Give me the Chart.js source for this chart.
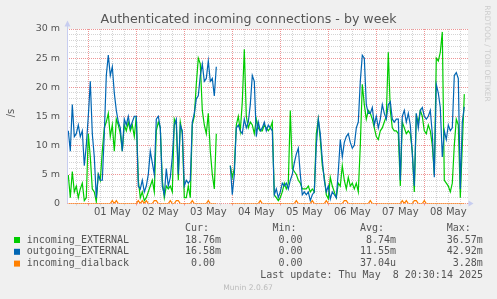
<!DOCTYPE html>
<html>
<head>
<meta charset="utf-8">
<script src="https://cdn.jsdelivr.net/npm/chart.js@4.4.1/dist/chart.umd.min.js"></script>
<style>
  html, body { margin: 0; padding: 0; background: #f0f0f0; }
  #wrap { width: 497px; height: 299px; }
</style>
</head>
<body>
<div id="wrap"><canvas id="chart" width="497" height="299"></canvas></div>
<script>
// hours relative to 01 May 00:00, one sample per hour, first sample at startHour
const startHour = -10;
const dayLabels = ['01 May', '02 May', '03 May', '04 May', '05 May', '06 May', '07 May', '08 May'];
const yLabelValues = [0, 5, 10, 15, 20, 25, 30];

// values in milli-connections per second (m)
const incomingExternal = [
  4.9, 1, 5.5, 2, 3, 1, 2.5, 3.5, 0.5, 1,
  12, 8, 2.5, 2, 0.3, 5, 4, 9, 13, 14, 15.5, 11.5, 13.5, 9, 14.5, 13.5, 12, 9, 13.5, 12.5, 14, 12.5, 13.5, 11.5,
  15, 4, 1, 2, 0.5, 1, 2, 3, 4, 2, 12.5, 14, 13, 4, 1, 3, 2.5, 3, 2, 14.5, 13.5, 4, 14, 12,
  1, 1, 3, 1, 13.5, 15, 20.5, 25, 24, 16, 13.5, 12, 15.5, 9, 5, 2.5, 12, null, null, null, null, null, null, 6.5,
  4.5, 6, 13.5, 15, 12.5, 17.5, 26.5, 15, 13, 14, 13.5, 12, 14.5, 13, 12.5, 12.5, 13.5, 13, 12.5, 13, 14, 1.5, 1, 0.5,
  1, 2, 3.5, 2.5, 3.5, 16, 6, 5.5, 5, 4, 3.5, 2.5, 2.5, 2.5, 3, 2, 2.5, 2, 12, 14.5, 11, 6.5, 4.5, 1.5,
  0.8, 4.5, 3, 2, 1, 3.5, 3, 6.5, 4, 2.5, 4.5, 3, 3.5, 2.5, 3.5, 2, 10, 20.5, 17, 14.5, 16, 15.5, 14.5, 13,
  11.5, 11, 12.5, 13, 14, 15, 26, 16, 13, 12.5, 12.5, 12, 3, 14, 13, 12, 12.5, 12, 9, 2, 15, 14, 16, 15,
  12.5, 12, 13.5, 12.5, 10, 5, 25, 24.5, 26, 29.5, 4, 3.5, 3, 2, 3.5, 10, 14.5, 13.5, 1, 10, 18.8
];
const outgoingExternal = [
  12.5, 9, 17, 11.5, 12, 13.5, 11.5, 12.5, 6.5, 10,
  15, 21, 12, 8, 1, 5, 4, 4, 12, 22, 25.5, 22, 23.5, 19, 16, 14, 13, 9, 14.5, 13.5, 15, 13, 14, 15,
  15, 3, 2.5, 4, 2, 3, 5, 9, 7, 5, 14.5, 15, 13, 3, 1.5, 6, 3, 4.5, 8, 13.5, 14.5, 5, 13.5, 12.5,
  3, 4, 3.5, 4, 14, 15.5, 18, 18.5, 22, 24, 21, 21.5, 24.5, 21, 21.5, 18.5, 23.5, null, null, null, null, null, null, 6.5,
  1.5, 5, 13, 13.5, 12.5, 12, 14.5, 13, 14, 17, 22, 21, 11.5, 14, 12.5, 13, 14, 12.5, 13.5, 13, 12.5, 1.5, 2.5, 1,
  2, 3.5, 3, 3.5, 2.5, 4, 5, 7, 8.5, 9.5, 5, 1.5, 2, 1.5, 2, 0.5, 1.5, 2, 10, 14.5, 12, 7.5, 4, 2,
  3, 0.8, 2, 1.5, 1, 5.5, 11, 8, 10.5, 11.5, 12, 10.5, 9.5, 10, 13, 14, 21, 25.5, 25, 17, 15.5, 15.5, 16.5, 13.5,
  15, 13, 14.5, 17, 15.5, 14.5, 17, 17.5, 14.5, 14, 14.5, 14.5, 4, 15, 16, 14, 15.5, 13.5, 8.5, 3, 15.5, 13, 16, 16.5,
  15, 14.5, 15, 16, 12, 4.5, 20.5, 19, 16.5, 8, 12.5, 11, 13.5, 12.5, 13, 22, 22.5, 21.5, 2.5, 14, 16.6
];
const incomingDialback = [
  0, 0, 0, 0, 0, 0, 0, 0, 0, 0,
  0, 0, 0, 0, 0, 0, 0, 0, 0, 0, 0, 0, 0.5, 0, 0.5, 0, 0, 0, 0, 0, 0, 0, 0, 0,
  0, 0.5, 0, 0.5, 0, 0.5, 0, 0, 0, 0.5, 0.5, 0, 0, 0, 0, 0, 0, 0.5, 0, 0, 0.5, 0.5, 0, 0,
  0, 0, 0, 0, 0.5, 0, 0, 0, 0, 0, 0, 0, 0.5, 0, 0, 0, 0, null, null, null, null, null, null, 0,
  0, 0, 0, 0, 0, 0, 0, 0, 0, 0, 0, 0, 0, 0, 0.5, 0, 0, 0, 0, 0, 0, 0, 0, 0,
  0, 0, 0, 0, 0, 0, 0, 0, 0.5, 0, 0, 0, 0, 0, 0, 0, 0.5, 0, 0, 0, 0, 0, 0, 0.5,
  0, 0, 0, 0, 0, 0, 0, 0, 0.5, 0.5, 0, 0, 0, 0, 0, 0, 0, 0, 0, 0, 0, 0.5, 0, 0,
  0, 0, 0, 0, 0, 0, 0, 0, 0, 0, 0, 0, 0, 0.5, 0, 0.5, 0, 0, 0, 0.5, 0.5, 0, 0, 0,
  0.5, 0, 0, 0, 0, 0, 0, 0, 0, 0, 0, 0, 0, 0, 0, 0, 0, 0, 0, 0, 0
];

const seriesNames = ['incoming_EXTERNAL', 'outgoing_EXTERNAL', 'incoming_dialback'];
const seriesColors = ['#00cc00', '#0066b3', '#ff8000'];
const curValues = ['18.76m', '16.58m', ' 0.00 '];
const minValues = [' 0.00 ', ' 0.00 ', ' 0.00 '];
const avgValues = [' 8.74m', '11.55m', '37.04u'];
const maxValues = ['36.57m', '42.92m', ' 3.28m'];
const lastUpdate = 'Last update: Thu May  8 20:30:14 2025';

const toPoints = arr => arr.map((v, i) => ({ x: startHour + i, y: v }));

const xTicks = [];
for (let h = -6; h <= 186; h += 6) xTicks.push(h);
const yTicks = [];
for (let v = 0; v <= 30; v++) yTicks.push(v);

const minorGrid = '#d4d4d4';
const majorGrid = '#ee9595';

const munin = {
  id: 'munin',
  beforeDraw(chart) {
    const { ctx, chartArea: a } = chart;
    ctx.save();
    ctx.fillStyle = '#f0f0f0';
    ctx.fillRect(0, 0, chart.width, chart.height);
    ctx.fillStyle = '#ffffff';
    ctx.fillRect(a.left, a.top, a.right - a.left, a.bottom - a.top);
    ctx.restore();
  },
  afterDraw(chart) {
    const { ctx, chartArea: a } = chart;
    ctx.save();
    // axes with arrows
    ctx.strokeStyle = '#c7cdf0';
    ctx.fillStyle = '#c7cdf0';
    ctx.lineWidth = 1;
    ctx.beginPath();
    ctx.moveTo(a.left + 0.5, a.bottom);
    ctx.lineTo(a.left + 0.5, 24);
    ctx.stroke();
    ctx.beginPath();
    ctx.moveTo(a.left + 0.5, 20.5);
    ctx.lineTo(a.left - 2.5, 26.5);
    ctx.lineTo(a.left + 3.5, 26.5);
    ctx.closePath();
    ctx.fill();
    ctx.beginPath();
    ctx.moveTo(a.right, a.bottom);
    ctx.lineTo(a.right + 2, a.bottom);
    ctx.stroke();
    ctx.beginPath();
    ctx.moveTo(a.right + 5.5, a.bottom);
    ctx.lineTo(a.right + 0.5, a.bottom - 3);
    ctx.lineTo(a.right + 0.5, a.bottom + 3);
    ctx.closePath();
    ctx.fill();

    // title
    ctx.fillStyle = '#555555';
    ctx.font = '12.6px "DejaVu Sans"';
    ctx.textAlign = 'center';
    ctx.textBaseline = 'alphabetic';
    ctx.fillText('Authenticated incoming connections - by week', 248.5, 23);

    // y unit
    ctx.save();
    ctx.translate(11, 113);
    ctx.rotate(-Math.PI / 2);
    ctx.font = '10px "DejaVu Sans"';
    ctx.textBaseline = 'middle';
    ctx.fillText('/s', 0, 0);
    ctx.restore();

    // watermark
    ctx.save();
    ctx.translate(487, 53.5);
    ctx.rotate(Math.PI / 2);
    ctx.fillStyle = '#cccccc';
    ctx.font = '7.5px "DejaVu Sans"';
    ctx.textBaseline = 'middle';
    ctx.textAlign = 'center';
    ctx.fillText('RRDTOOL / TOBI OETIKER', 0, 0);
    ctx.restore();

    // legend
    ctx.font = '10px "DejaVu Sans Mono"';
    ctx.textAlign = 'left';
    ctx.textBaseline = 'middle';
    ctx.fillStyle = '#555555';
    ctx.fillText('Cur:', 185, 228.3);
    ctx.fillText('Min:', 272.5, 228.3);
    ctx.fillText('Avg:', 360, 228.3);
    ctx.fillText('Max:', 446.7, 228.3);
    const rowY = [240, 251.8, 263.6];
    seriesNames.forEach((name, i) => {
      const y = rowY[i];
      ctx.fillStyle = seriesColors[i];
      ctx.fillRect(14, y - 3, 6, 6);
      ctx.fillStyle = '#555555';
      ctx.fillText(name, 26.7, y);
      ctx.fillText(curValues[i], 185, y);
      ctx.fillText(minValues[i], 272.5, y);
      ctx.fillText(avgValues[i], 360, y);
      ctx.fillText(maxValues[i], 446.7, y);
    });
    ctx.textAlign = 'right';
    ctx.fillText(lastUpdate, 483, 275.5);

    ctx.textAlign = 'center';
    ctx.fillStyle = '#bbbbbb';
    ctx.font = '7.6px "DejaVu Sans"';
    ctx.fillText('Munin 2.0.67', 248, 288);
    ctx.restore();
  }
};

new Chart(document.getElementById('chart'), {
  type: 'line',
  data: {
    datasets: [
      { label: seriesNames[0], data: toPoints(incomingExternal), borderColor: seriesColors[0], order: 3 },
      { label: seriesNames[1], data: toPoints(outgoingExternal), borderColor: seriesColors[1], order: 2 },
      { label: seriesNames[2], data: toPoints(incomingDialback), borderColor: seriesColors[2], order: 1 }
    ]
  },
  options: {
    responsive: false,
    animation: false,
    events: [],
    layout: { padding: { top: 29, right: 29, left: 0, bottom: 0 } },
    elements: {
      line: { borderWidth: 1.2, tension: 0, fill: false },
      point: { radius: 0 }
    },
    datasets: { line: { spanGaps: false } },
    plugins: { legend: { display: false }, tooltip: { enabled: false }, title: { display: false } },
    scales: {
      x: {
        type: 'linear',
        min: -10.65,
        max: 189.85,
        afterBuildTicks: ax => { ax.ticks = xTicks.map(v => ({ value: v })); },
        afterFit: ax => { ax.height = 95.5; },
        border: { display: false, dash: [1, 1] },
        grid: {
          color: c => (c.tick && c.tick.value % 24 === 0) ? majorGrid : minorGrid,
          lineWidth: 1,
          drawTicks: true,
          tickLength: 2,
          tickBorderDash: []
        },
        ticks: {
          autoSkip: false,
          maxRotation: 0,
          padding: 1,
          color: '#555555',
          font: { family: 'DejaVu Sans', size: 10 },
          callback: v => (((v % 24) + 24) % 24 === 12) ? dayLabels[Math.floor(v / 24)] : ''
        }
      },
      y: {
        min: 0,
        max: 30,
        afterBuildTicks: ax => { ax.ticks = yTicks.map(v => ({ value: v })); },
        afterFit: ax => { ax.width = 67; },
        border: { display: false, dash: [1, 1] },
        grid: {
          color: c => (c.tick && c.tick.value % 5 === 0) ? majorGrid : minorGrid,
          lineWidth: 1,
          drawTicks: false
        },
        ticks: {
          autoSkip: false,
          padding: 7,
          color: '#555555',
          font: { family: 'DejaVu Sans', size: 9.5 },
          callback: v => yLabelValues.includes(v) ? (v === 0 ? '0' : v + ' m') : ''
        }
      }
    }
  },
  plugins: [munin]
});
</script>
</body>
</html>
